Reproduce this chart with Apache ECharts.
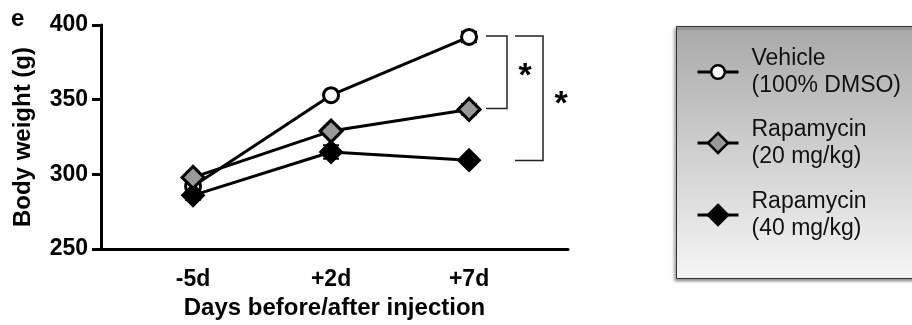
<!DOCTYPE html>
<html>
<head>
<meta charset="utf-8">
<script src="https://cdn.jsdelivr.net/npm/echarts@6/dist/echarts.min.js"></script>
<style>html,body{margin:0;padding:0;background:#fff}#c{width:912px;height:325px}</style>
</head>
<body>
<div id="c"></div>
<script>
// ---- data ----
const categories = ['-5d', '+2d', '+7d'];
const catPos = [0, 1, 2];
const seriesNames = ['Vehicle\n(100% DMSO)', 'Rapamycin\n(20 mg/kg)', 'Rapamycin\n(40 mg/kg)'];
const vehicle = [292, 353, 392];
const rapa20 = [298, 329, 343.5];
const rapa40 = [286, 315, 309.5];
const vehicleErr = [2, 2, 3.5];
const rapa20Err = [2, 3, 3.5];
const rapa40Err = [3, 4.5, 2];
const yMin = 250, yMax = 400, yStep = 50;
// significance brackets: [xStart, xEnd, yTop, yBottom]
const brackets = [[2.123, 2.275, 392.6, 344.1], [2.333, 2.536, 392.6, 309.3]];
// significance stars: [x, y]
const stars = [[2.406, 368.7], [2.667, 349.8]];

const FONT = "'Liberation Sans', Arial, sans-serif";
const chart = echarts.init(document.getElementById('c'), null, {renderer: 'canvas'});

function pts(vals) { return catPos.map((x, i) => [x, vals[i]]); }
function errPts(vals, errs) { return catPos.map((x, i) => [x, vals[i] - errs[i], vals[i] + errs[i]]); }

function errRender(params, api) {
  const x = api.value(0);
  const a = api.coord([x, api.value(1)]);
  const b = api.coord([x, api.value(2)]);
  const h = 8;
  const st = {stroke: '#000', lineWidth: 2};
  return {type: 'group', children: [
    {type: 'line', shape: {x1: a[0], y1: a[1], x2: b[0], y2: b[1]}, style: st},
    {type: 'line', shape: {x1: a[0] - h, y1: a[1], x2: a[0] + h, y2: a[1]}, style: st},
    {type: 'line', shape: {x1: b[0] - h, y1: b[1], x2: b[0] + h, y2: b[1]}, style: st}
  ]};
}

function errSeries(vals, errs) {
  return {type: 'custom', data: errPts(vals, errs), renderItem: errRender, z: 1, silent: true,
    encode: {x: 0, y: [1, 2]}, clip: false};
}

const lineBase = {type: 'line', lineStyle: {color: '#000', width: 3}, z: 3, silent: true};

function legendFor(name, top, itemHeight) {
  return {
    data: [name], left: 696, top: top, orient: 'vertical', padding: 0, z: 10,
    itemWidth: 41, itemHeight: itemHeight, selectedMode: false,
    lineStyle: {width: 3, color: '#000'},
    itemStyle: {borderWidth: 2.5},
    textStyle: {fontFamily: FONT, fontSize: 23, color: '#111', lineHeight: 27, padding: [27, 0, 0, 8]}
  };
}

const option = {
  animation: false,
  backgroundColor: '#fff',
  grid: {left: 101, right: 344, top: 25, bottom: 70, containLabel: false},
  graphic: [
    {type: 'rect', left: 676, top: 26, z: 0, shape: {width: 260, height: 252},
      style: {fill: new echarts.graphic.LinearGradient(0, 0, 0, 1, [
        {offset: 0, color: '#a9a9a9'}, {offset: 1, color: '#f6f6f6'}]),
        stroke: '#333', lineWidth: 1, shadowBlur: 3, shadowOffsetX: -2, shadowOffsetY: 2,
        shadowColor: 'rgba(0,0,0,0.45)'}},
    {type: 'text', left: 11, top: 7, z: 5,
      style: {text: 'e', font: "bold 24px 'Liberation Sans', Arial, sans-serif", fill: '#000'}}
  ],
  legend: [
    legendFor(seriesNames[0], 31.5, 17),
    legendFor(seriesNames[1], 102.5, 25),
    legendFor(seriesNames[2], 174.5, 25)
  ],
  xAxis: {
    type: 'value', min: -0.667, max: 2.717,
    name: 'Days before/after injection', nameLocation: 'middle', nameGap: 45,
    nameTextStyle: {fontFamily: FONT, fontSize: 24, fontWeight: 'bold', color: '#000'},
    axisLine: {show: true, onZero: false, lineStyle: {color: '#000', width: 3}},
    axisTick: {show: false},
    splitLine: {show: false},
    axisLabel: {customValues: catPos, formatter: v => categories[Math.round(v)],
      fontFamily: FONT, fontSize: 23, fontWeight: 'bold', color: '#000', margin: 19}
  },
  yAxis: {
    type: 'value', min: yMin, max: yMax, interval: yStep,
    name: 'Body weight (g)', nameLocation: 'middle', nameGap: 66, nameRotate: 90,
    nameTextStyle: {fontFamily: FONT, fontSize: 24, fontWeight: 'bold', color: '#000'},
    axisLine: {show: true, onZero: false, lineStyle: {color: '#000', width: 3}},
    axisTick: {show: true, length: 9, lineStyle: {color: '#000', width: 3}},
    splitLine: {show: false},
    axisLabel: {fontFamily: FONT, fontSize: 23, fontWeight: 'bold', color: '#000', margin: 13}
  },
  series: [
    errSeries(vehicle, vehicleErr),
    errSeries(rapa20, rapa20Err),
    errSeries(rapa40, rapa40Err),
    Object.assign({}, lineBase, {name: seriesNames[0], data: pts(vehicle), symbol: 'circle', symbolSize: 15,
      itemStyle: {color: '#fff', borderColor: '#000', borderWidth: 3}}),
    Object.assign({}, lineBase, {name: seriesNames[2], data: pts(rapa40), symbol: 'diamond', symbolSize: 22,
      itemStyle: {color: '#000', borderColor: '#000', borderWidth: 2}}),
    Object.assign({}, lineBase, {name: seriesNames[1], data: pts(rapa20), symbol: 'diamond', symbolSize: 22,
      itemStyle: {color: '#999', borderColor: '#000', borderWidth: 3}}),
    {type: 'custom', data: brackets, silent: true, clip: false, z: 4,
      renderItem: function (params, api) {
        const x1 = api.value(0), x2 = api.value(1), yt = api.value(2), yb = api.value(3);
        const p = [api.coord([x1, yt]), api.coord([x2, yt]), api.coord([x2, yb]), api.coord([x1, yb])];
        return {type: 'polyline', shape: {points: p}, style: {stroke: '#222', lineWidth: 1.5, fill: null}};
      }},
    {type: 'custom', data: stars, silent: true, clip: false, z: 4,
      renderItem: function (params, api) {
        const c = api.coord([api.value(0), api.value(1)]);
        return {type: 'text', x: c[0], y: c[1] - 12,
          style: {text: '*', fontFamily: FONT, fontSize: 34, fontWeight: 'bold', fill: '#000',
            align: 'center', verticalAlign: 'top'}};
      }}
  ]
};
chart.setOption(option);
</script>
</body>
</html>
